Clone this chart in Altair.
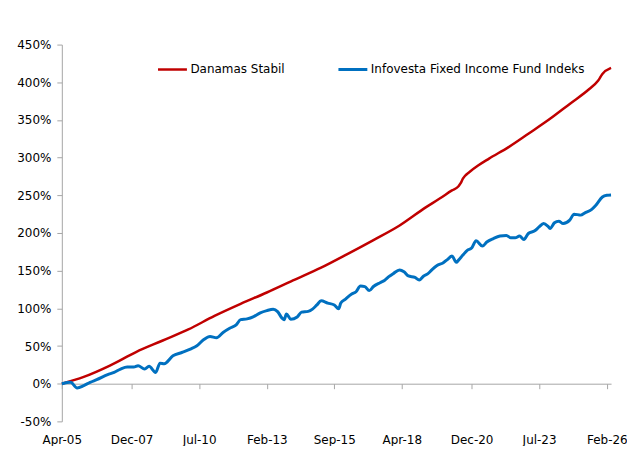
import altair as alt
import pandas as pd

series_names = ["Danamas Stabil", "Infovesta Fixed Income Fund Indeks"]
series_colors = ["#C00000", "#0070C0"]

red_dates = [
    "2005/04/01", "2006/02/01", "2007/02/01", "2008/02/01", "2009/02/01",
    "2010/02/01", "2011/02/01", "2012/02/01", "2013/02/01", "2014/02/01",
    "2015/03/01", "2016/03/01", "2017/03/01", "2018/03/01", "2019/03/01",
    "2019/09/01", "2020/03/01", "2020/06/01", "2020/07/01", "2020/08/01",
    "2020/09/01", "2020/11/01", "2021/03/01", "2021/08/01", "2022/05/01",
    "2023/02/01", "2023/12/01", "2024/09/01", "2025/06/01", "2025/10/01",
    "2025/12/01", "2026/04/01",
]
red_values = [
    0, 9, 24, 42, 57,
    72, 90, 106, 121, 137,
    154, 172, 190.6, 210, 234,
    245, 256.5, 262, 266, 272,
    276, 281, 289.5, 298.7, 314,
    331.7, 351.5, 371.3, 391, 402,
    411, 419,
]

blue_dates = [
    "2005/04/01", "2005/08/01", "2005/11/01", "2006/02/01", "2006/05/01",
    "2006/08/01", "2007/01/01", "2007/04/01", "2007/07/01", "2007/10/01",
    "2008/01/01", "2008/03/01", "2008/06/01", "2008/08/01", "2008/11/01",
    "2009/01/01", "2009/03/01", "2009/07/01", "2009/11/01", "2010/03/01",
    "2010/06/01", "2010/09/01", "2010/12/01", "2011/03/01", "2011/06/01",
    "2011/09/01", "2011/12/01", "2012/02/01", "2012/05/01", "2012/08/01",
    "2012/11/01", "2013/02/01", "2013/05/01", "2013/07/01", "2013/09/01",
    "2013/10/01", "2013/11/01", "2014/01/01", "2014/04/01", "2014/06/01",
    "2014/09/01", "2014/11/01", "2015/01/01", "2015/03/01", "2015/06/01",
    "2015/09/01", "2015/11/01", "2015/12/01", "2016/02/01", "2016/05/01",
    "2016/07/01", "2016/09/01", "2016/11/01", "2017/01/01", "2017/03/01",
    "2017/06/01", "2017/08/01", "2017/10/01", "2017/12/01", "2018/03/01",
    "2018/05/01", "2018/07/01", "2018/10/01", "2018/12/01", "2019/02/01",
    "2019/04/01", "2019/06/01", "2019/08/01", "2019/11/01", "2020/01/01",
    "2020/03/01", "2020/05/01", "2020/06/01", "2020/08/01", "2020/10/01",
    "2020/12/01", "2021/02/01", "2021/05/01", "2021/07/01", "2021/10/01",
    "2022/01/01", "2022/04/01", "2022/06/01", "2022/08/01", "2022/10/01",
    "2022/12/01", "2023/02/01", "2023/05/01", "2023/07/01", "2023/09/01",
    "2023/11/01", "2023/12/01", "2024/02/01", "2024/04/01", "2024/06/01",
    "2024/09/01", "2024/11/01", "2025/02/01", "2025/04/01", "2025/07/01",
    "2025/09/01", "2025/12/01", "2026/02/01", "2026/04/01",
]
blue_values = [
    0, 1.8, -5.7, -2.6, 1.8,
    5.3, 12, 15, 19.4, 22,
    22, 23.8, 19.4, 23, 15,
    27.3, 26.5, 37, 41.4, 45.9,
    50.3, 58.2, 62.6, 61, 68,
    73.6, 78, 85, 86, 89,
    94, 97, 98.8, 95.7, 87,
    84.7, 92.6, 85.5, 88.5, 95,
    96, 99, 104.5, 110, 107,
    104.5, 99.5, 107, 112, 119,
    122, 129.5, 128.8, 123.5, 129,
    134, 137, 142, 146, 151,
    148.6, 143, 141, 137.6, 143,
    146, 151.8, 156.5, 160.5, 165,
    169.5, 161, 164, 170.7, 177,
    180, 189.6, 182.6, 188, 192.6,
    195.9, 196.7, 193.6, 193.6, 195.9,
    191.4, 199.3, 202.9, 208, 212.6,
    209, 206, 213.5, 215.7, 212.6,
    217, 225, 223.7, 226.6, 231,
    236.8, 247.8, 250, 250.4,
]

x_tick_labels_dates = [
    "2005/04/01", "2007/12/01", "2010/07/01", "2013/02/01", "2015/09/01",
    "2018/04/01", "2020/12/01", "2023/07/01", "2026/02/01",
]
y_ticks = [-50, 0, 50, 100, 150, 200, 250, 300, 350, 400, 450]

df = pd.concat([
    pd.DataFrame({"date": red_dates, "value": red_values, "series": series_names[0]}),
    pd.DataFrame({"date": blue_dates, "value": blue_values, "series": series_names[1]}),
], ignore_index=True)


def dt(s):
    y, m, d = s.split("/")
    return alt.DateTime(year=int(y), month=int(m), date=int(d))


FONT = "DejaVu Sans"
AXIS_GRAY = "#A6A6A6"
PLOT_H = 378

chart = alt.Chart(df).mark_line(interpolate="monotone").encode(
    x=alt.X(
        "date:T",
        scale=alt.Scale(domain=[dt("2005/04/01"), dt("2026/04/01")], nice=False),
        axis=alt.Axis(
            values=[dt(s) for s in x_tick_labels_dates],
            format="%b-%y",
            title=None,
            grid=False,
            offset=-PLOT_H * 50 / 500,
            tickSize=5,
            labelPadding=46,
            domainColor=AXIS_GRAY,
            tickColor=AXIS_GRAY,
            labelFlush=False,
            labelOverlap=False,
        ),
    ),
    y=alt.Y(
        "value:Q",
        scale=alt.Scale(domain=[-50, 450], nice=False, zero=False),
        axis=alt.Axis(
            values=y_ticks,
            labelExpr="datum.value + '%'",
            title=None,
            grid=False,
            tickSize=5,
            labelPadding=6,
            domainColor=AXIS_GRAY,
            tickColor=AXIS_GRAY,
        ),
    ),
    color=alt.Color(
        "series:N",
        scale=alt.Scale(domain=series_names, range=series_colors),
        legend=alt.Legend(
            title=None,
            orient="none",
            direction="horizontal",
            legendX=95,
            legendY=9,
            symbolType="stroke",
            symbolSize=841,
            symbolStrokeWidth=3,
            labelOffset=2,
            labelLimit=400,
            columnPadding=47,
            padding=0,
            labelFontSize=12,
            labelFont=FONT,
            labelColor="#000000",
        ),
    ),
    strokeWidth=alt.StrokeWidth(
        "series:N",
        scale=alt.Scale(domain=series_names, range=[2.5, 3]),
        legend=None,
    ),
).properties(
    width=551,
    height=PLOT_H,
    autosize=alt.AutoSizeParams(type="none"),
    padding={"left": 54, "top": 36, "right": 16, "bottom": 24},
).configure_axis(
    labelFont=FONT,
    labelFontSize=12,
    labelColor="#000000",
).configure_view(
    stroke=None,
)

chart.save("out.html", embed_options={"renderer": "svg", "actions": False})
